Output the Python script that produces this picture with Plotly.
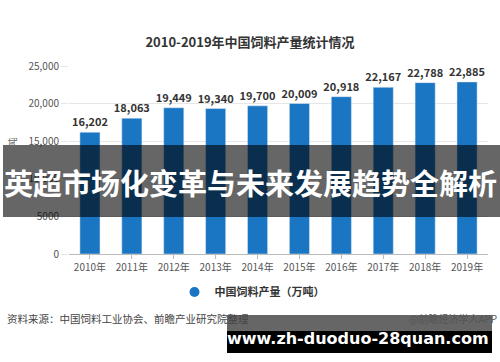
import plotly.graph_objects as go

years = ["2010年", "2011年", "2012年", "2013年", "2014年", "2015年", "2016年", "2017年", "2018年", "2019年"]
output = [16202, 18063, 19449, 19340, 19700, 20009, 20918, 22167, 22788, 22885]
tick_vals = [0, 5000, 10000, 15000, 20000, 25000]
tick_text = ["0", "5000", "10,000", "15,000", "20,000", "25,000"]

W, H = 500, 362
L, R, T, B = 69, 12, 66, 108
PW, PH = W - L - R, H - T - B

def px(x):
    return (x - L) / PW

def py(y):
    return (H - B - y) / PH

FONT = "Noto Sans CJK SC"

fig = go.Figure()
fig.add_trace(go.Bar(
    x=years, y=output, marker_color="#1a76c2", showlegend=False,
    text=output, texttemplate="%{y:,}", textposition="outside", constraintext="none",
    textfont=dict(family=FONT, size=11, color="#333", weight="bold"),
    cliponaxis=False,
))
fig.add_trace(go.Scatter(
    x=[None], y=[None], mode="markers", name="中国饲料产量（万吨）",
    marker=dict(symbol="circle", size=10, color="#1a76c2"),
))

fig.update_layout(
    width=W, height=H,
    margin=dict(l=L, r=R, t=T, b=B),
    paper_bgcolor="white", plot_bgcolor="white",
    bargap=0.52,
    font=dict(family=FONT),
    title=dict(text="<b>2010-2019年中国饲料产量统计情况</b>", x=0.5, xref="container",
               y=1 - 42 / H, yref="container", yanchor="middle",
               font=dict(family=FONT, size=13, color="#333")),
    xaxis=dict(showline=True, linecolor="#bbb", ticks="outside", ticklen=4, tickcolor="#bbb",
               tickfont=dict(size=10, color="#555"), showgrid=False),
    yaxis=dict(range=[0, 25000], tickvals=tick_vals, ticktext=tick_text,
               showgrid=True, gridcolor="#e6e6e6", ticks="outside", ticklen=7, tickcolor="#e6e6e6",
               tickfont=dict(size=10, color="#555"), zeroline=False,
               title=dict(text="产量：万吨", font=dict(size=9, color="#666"), standoff=10)),
    legend=dict(orientation="h", x=px(252), xanchor="center", y=py(292),
                yanchor="middle", font=dict(size=11, color="#333", weight="bold")),
)

shapes = [
    dict(type="rect", xref="paper", yref="paper", x0=px(3), x1=px(500), y0=py(145), y1=py(217),
         fillcolor="rgba(0,0,0,0.6)", line_width=0, layer="above"),
    dict(type="rect", xref="paper", yref="paper", x0=px(227), x1=px(492), y0=py(315), y1=py(331),
         fillcolor="rgba(0,0,0,0.6)", line_width=0, layer="above"),
    dict(type="rect", xref="paper", yref="paper", x0=px(227), x1=px(492), y0=py(331), y1=py(353),
         fillcolor="black", line_width=0, layer="above"),
]
fig.update_layout(shapes=shapes)

anns = [
    dict(text="<b>英超市场化变革与未来发展趋势全解析</b>", x=px(250), y=py(182), xref="paper", yref="paper",
         showarrow=False, font=dict(family=FONT, size=29, color="white"), xanchor="center", yanchor="middle"),
    dict(text="资料来源：中国饲料工业协会、前瞻产业研究院整理", x=px(5), y=py(318), xref="paper", yref="paper",
         showarrow=False, font=dict(family=FONT, size=10.5, color="#444"), xanchor="left", yanchor="middle"),
    dict(text="@前瞻经济学人APP", x=px(499), y=py(318), xref="paper", yref="paper",
         showarrow=False, font=dict(family=FONT, size=10, color="#555"), xanchor="right", yanchor="middle"),
    dict(text="<b>www.zh-duoduo-28quan.com</b>", x=px(358), y=py(338), xref="paper", yref="paper",
         showarrow=False, font=dict(family="DejaVu Sans", size=16, color="white"), xanchor="center", yanchor="middle"),
]
fig.update_layout(annotations=anns)

fig.write_html("out.html", config={"displayModeBar": False},
               post_script="document.body.style.margin='0';")
